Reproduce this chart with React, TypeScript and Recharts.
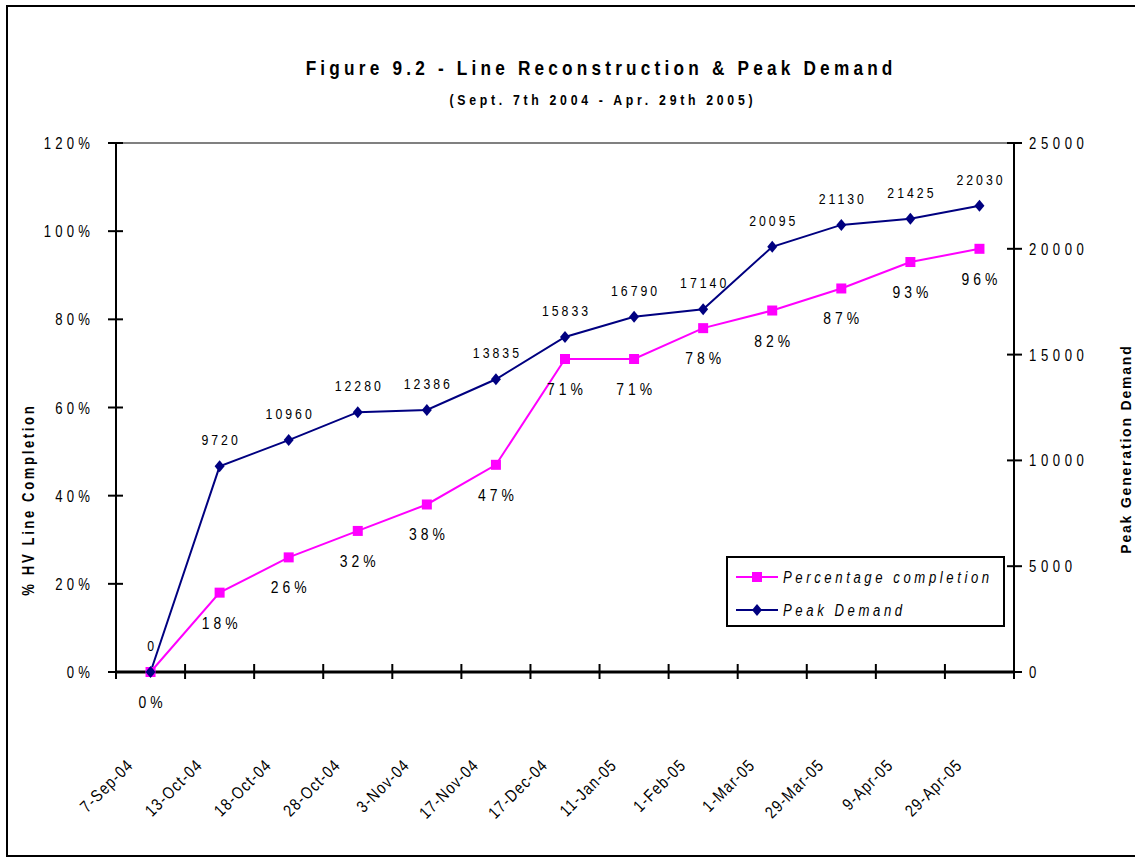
import React from 'react';
import { LineChart, Line, XAxis, YAxis, ReferenceLine, LabelList } from 'recharts';

const dates = [
  '7-Sep-04', '13-Oct-04', '18-Oct-04', '28-Oct-04', '3-Nov-04', '17-Nov-04', '17-Dec-04',
  '11-Jan-05', '1-Feb-05', '1-Mar-05', '29-Mar-05', '9-Apr-05', '29-Apr-05',
];
const pctComplete = [0, 18, 26, 32, 38, 47, 71, 71, 78, 82, 87, 93, 96];
const peakDemand = [0, 9720, 10960, 12280, 12386, 13835, 15833, 16790, 17140, 20095, 21130, 21425, 22030];
const pctTicks = [0, 20, 40, 60, 80, 100, 120];
const demandTicks = [0, 5000, 10000, 15000, 20000, 25000];

const W = 1135;
const H = 860;
const PLOT_LEFT = 116;
const PLOT_RIGHT = 1014;
const BAND = (PLOT_RIGHT - PLOT_LEFT) / dates.length;

// Arial-like face squeezed horizontally, to stand in for Arial Narrow
const SANS = '"Liberation Sans", Arial, sans-serif';
const SX = 0.82;
const PINK = '#FF00FF';
const NAVY = '#000080';

const data = dates.map((d, i) => ({ date: d, pct: pctComplete[i], peak: peakDemand[i] }));

function NText({ x, y, anchor = 'start', size, spacing = 0, bold = false, italic = false, rotate = 0, sx = SX, children }: any) {
  const ls = spacing / sx;
  const dx = anchor === 'middle' ? ls / 2 : anchor === 'end' ? ls : 0;
  return (
    <text
      transform={`translate(${x} ${y}) rotate(${rotate}) scale(${sx} 1)`}
      dx={dx}
      textAnchor={anchor}
      fontFamily={SANS}
      fontSize={size}
      fontWeight={bold ? 'bold' : 'normal'}
      fontStyle={italic ? 'italic' : 'normal'}
      fill="#000"
      style={{ letterSpacing: ls }}
    >
      {children}
    </text>
  );
}

function PctTick({ x, y, payload }: any) {
  return (
    <g>
      <line x1={x - 8} x2={x + 7} y1={y} y2={y} stroke="#000" strokeWidth={2} />
      <NText x={x - 26} y={y + 6} anchor="end" size={16} spacing={4.2}>{`${payload.value}%`}</NText>
    </g>
  );
}

function DemandTick({ x, y, payload }: any) {
  return (
    <g>
      <line x1={x - 7} x2={x + 8} y1={y} y2={y} stroke="#000" strokeWidth={2} />
      <NText x={x + 15} y={y + 6} size={16} spacing={4.6}>{payload.value}</NText>
    </g>
  );
}

function DateTick({ x, y, payload, index }: any) {
  return (
    <g>
      <line x1={x - BAND / 2} x2={x - BAND / 2} y1={y - 8} y2={y + 7} stroke="#000" strokeWidth={2} />
      {index === dates.length - 1 && (
        <line x1={x + BAND / 2} x2={x + BAND / 2} y1={y - 8} y2={y + 7} stroke="#000" strokeWidth={2} />
      )}
      <NText x={x - 17} y={y + 95} anchor="end" rotate={-45} size={17} spacing={1.2}>{payload.value}</NText>
    </g>
  );
}

const SquareDot = ({ cx, cy, index }: any) => (
  <rect key={`sq-${index}`} x={cx - 5} y={cy - 5} width={10} height={10} fill={PINK} />
);

const DiamondDot = ({ cx, cy, index }: any) => (
  <polygon key={`dm-${index}`} points={`${cx},${cy - 6} ${cx + 5},${cy} ${cx},${cy + 6} ${cx - 5},${cy}`} fill={NAVY} />
);

const PctLabel = ({ x, y, value }: any) => (
  <NText x={x} y={y + 36} anchor="middle" size={17} spacing={4}>{`${value}%`}</NText>
);

const PeakLabel = ({ x, y, value }: any) => (
  <NText x={x} y={y - 21} anchor="middle" size={15} spacing={3}>{value}</NText>
);

export default function App() {
  return (
    <div style={{ position: 'absolute', left: 0, top: 0, width: W, height: H, overflow: 'hidden', background: '#fff' }}>
      <div
        style={{
          position: 'absolute', left: 6, top: 5, width: W + 20, height: 852,
          border: '2px solid #000', boxSizing: 'border-box',
        }}
      />
      <div style={{ position: 'absolute', left: 0, top: 0 }}>
        <LineChart width={W} height={H} data={data} margin={{ top: 143, right: 61, bottom: 0, left: 56 }}>
          <XAxis
            dataKey="date"
            interval={0}
            height={188}
            padding={{ left: BAND / 2, right: BAND / 2 }}
            tickSize={0}
            tickMargin={0}
            tickLine={false}
            axisLine={{ stroke: '#000', strokeWidth: 3 }}
            tick={(p: any) => <DateTick {...p} />}
          />
          <YAxis
            yAxisId="pct"
            width={60}
            domain={[0, 120]}
            ticks={pctTicks}
            interval={0}
            tickSize={0}
            tickMargin={0}
            tickLine={false}
            axisLine={{ stroke: '#000', strokeWidth: 2 }}
            tick={(p: any) => <PctTick {...p} />}
          />
          <YAxis
            yAxisId="peak"
            orientation="right"
            width={60}
            domain={[0, 25000]}
            ticks={demandTicks}
            interval={0}
            tickSize={0}
            tickMargin={0}
            tickLine={false}
            axisLine={{ stroke: '#000', strokeWidth: 2 }}
            tick={(p: any) => <DemandTick {...p} />}
          />
          <ReferenceLine yAxisId="pct" y={120} stroke="#808080" strokeWidth={2} />
          <Line
            yAxisId="pct"
            dataKey="pct"
            stroke={PINK}
            strokeWidth={2}
            dot={SquareDot}
            isAnimationActive={false}
          >
            <LabelList dataKey="pct" content={PctLabel} />
          </Line>
          <Line
            yAxisId="peak"
            dataKey="peak"
            stroke={NAVY}
            strokeWidth={2}
            dot={DiamondDot}
            isAnimationActive={false}
          >
            <LabelList dataKey="peak" content={PeakLabel} />
          </Line>
        </LineChart>
      </div>
      <svg width={W} height={H} style={{ position: 'absolute', left: 0, top: 0, pointerEvents: 'none' }}>
        <NText x={599} y={75} anchor="middle" size={21} spacing={4.2} bold>
          Figure 9.2 - Line Reconstruction &amp; Peak Demand
        </NText>
        <NText x={601} y={105} anchor="middle" size={15} spacing={3.7} bold>
          (Sept. 7th 2004 - Apr. 29th 2005)
        </NText>
        <NText x={34} y={501} anchor="middle" rotate={-90} size={16} spacing={2.6} bold>
          % HV Line Completion
        </NText>
        <NText x={1131} y={450} anchor="middle" rotate={-90} size={14} spacing={1.8} bold sx={1}>
          Peak Generation Demand
        </NText>
        <g>
          <rect x={727} y={557} width={277} height={69} fill="#fff" stroke="#000" strokeWidth={2} />
          <line x1={736} x2={778} y1={577} y2={577} stroke={PINK} strokeWidth={2} />
          <rect x={752} y={572} width={10} height={10} fill={PINK} />
          <NText x={783} y={583} size={16} spacing={3.6} italic>Percentage completion</NText>
          <line x1={736} x2={778} y1={610} y2={610} stroke={NAVY} strokeWidth={2} />
          <polygon points="757,604 762,610 757,616 752,610" fill={NAVY} />
          <NText x={783} y={616} size={16} spacing={3.6} italic>Peak Demand</NText>
        </g>
      </svg>
    </div>
  );
}
